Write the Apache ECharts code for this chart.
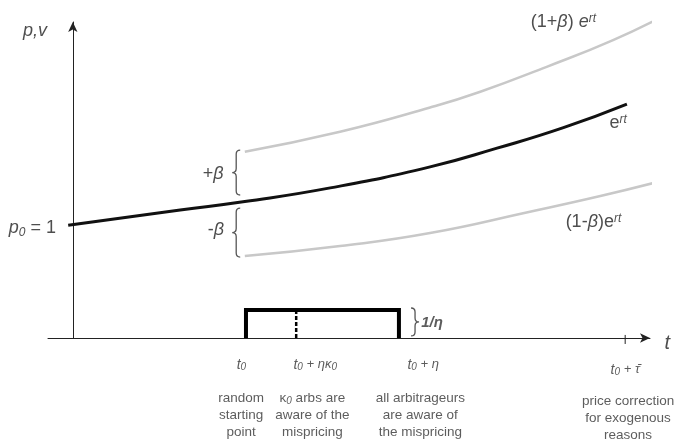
<!DOCTYPE html>
<html>
<head>
<meta charset="utf-8">
<script src="https://cdn.jsdelivr.net/npm/echarts@6/dist/echarts.min.js"></script>
<style>
html,body{margin:0;padding:0;background:#fff;}
#chart{width:679px;height:439px;}
</style>
</head>
<body>
<div id="chart"></div>
<script>
// ---- data (t, value) ----
const priceCurve = [[-0.08,1.0],[1.86,1.134],[2.98,1.209],[4.46,1.330],[6.19,1.516],[7.35,1.682],[8.50,1.864],[9.60,2.073]];
const upperBand = [[2.98,1.650],[4.63,1.827],[6.19,2.042],[7.06,2.182],[8.21,2.403],[9.36,2.640],[10.26,2.861]];
const lowerBand = [[2.98,0.726],[4.63,0.815],[6.19,0.930],[7.92,1.119],[9.14,1.258],[10.14,1.384]];
const t0 = 3.0, tKappa = 3.87, tEta = 5.65, tTau = 9.57, height = 0.248;
const arbRect = [[t0,0],[t0,height],[tEta,height],[tEta,0]];
const kappaLine = [[tKappa,0],[tKappa,height]];
const tauTick = [[tTau,-0.053],[tTau,0.027]];
// braces: [t of the open ends, v top, v bottom, direction (-1 = "{", 1 = "}")]
const braces = [[2.90,1.665,1.267,-1],[2.90,1.151,0.717,-1],[5.86,0.266,0.018,1]];
// annotation texts and their anchor points (t, v)
const annoTexts = [
  '{it|p,v}',
  '{itb|p}{sub|0}{b| = 1}',
  '{b|+}{itb|β}',
  '{b|-}{itb|β}',
  '{b|(1+}{itb|β}{b|) }{itb|e}{sup|rt}',
  '{b|e}{sup|rt}',
  '{b|(1-}{itb|β}{b|)e}{sup|rt}',
  '{ib|1/η}',
  '{big|t}',
  '{t|t}{sub2|0}',
  '{t|t}{sub2|0}{n| + ηκ}{sub2|0}',
  '{t|t}{sub2|0}{n| + η}',
  '{t|t}{sub2|0}{n| + τ\u0304}',
  'random\nstarting\npoint',
  '{d|κ}{ds|0}{d| arbs are}\n{d|aware of the}\n{d|mispricing}',
  'all arbitrageurs\nare aware of\nthe mispricing',
  'price correction\nfor exogenous\nreasons'
];
const annoPos = [
  [-0.655,2.72],[-0.70,0.966],[2.43,1.444],[2.48,0.948],[8.50,2.79],[9.45,1.90],[9.02,1.022],
  [6.225,0.133],[10.30,-0.044],[2.92,-0.239],[4.20,-0.239],[6.07,-0.239],[9.57,-0.284],
  [2.915,-0.682],[4.15,-0.682],[6.02,-0.682],[9.62,-0.709]
];

const chart = echarts.init(document.getElementById('chart'), null, {renderer:'canvas'});
const FONT = '"Liberation Sans", Arial, sans-serif';
const rich = {
  it:{fontFamily:FONT,fontStyle:'italic',fontSize:18,color:'#222',lineHeight:20},
  itb:{fontFamily:FONT,fontStyle:'italic',fontSize:18,color:'#222',lineHeight:20,padding:[0,0,4,0],verticalAlign:'top'},
  b:{fontFamily:FONT,fontSize:18,color:'#222',lineHeight:20,padding:[0,0,4,0],verticalAlign:'top'},
  sub:{fontFamily:FONT,fontStyle:'italic',fontSize:12,color:'#222',lineHeight:12,verticalAlign:'bottom'},
  sup:{fontFamily:FONT,fontStyle:'italic',fontSize:12,color:'#222',lineHeight:12,verticalAlign:'top'},
  ib:{fontFamily:FONT,fontStyle:'italic',fontWeight:'bold',fontSize:15,color:'#333'},
  big:{fontFamily:FONT,fontStyle:'italic',fontSize:20,color:'#222'},
  t:{fontFamily:FONT,fontStyle:'italic',fontSize:14,color:'#333',lineHeight:14,padding:[0,0,6,0],verticalAlign:'top'},
  n:{fontFamily:FONT,fontStyle:'italic',fontSize:13,color:'#333',lineHeight:14,padding:[0,0,6,0],verticalAlign:'top'},
  sub2:{fontFamily:FONT,fontStyle:'italic',fontSize:10,color:'#333',lineHeight:10,verticalAlign:'bottom'},
  d:{fontFamily:FONT,fontSize:13.5,color:'#333',lineHeight:17},
  ds:{fontFamily:FONT,fontStyle:'italic',fontSize:10,color:'#333',lineHeight:12,verticalAlign:'bottom'}
};

const annoData = annoTexts.map((txt,i)=>({
  value: annoPos[i],
  label:{show:true,position:'inside',formatter:txt,rich:rich,
         fontFamily:FONT,fontSize:13.5,color:'#333',lineHeight:17,align:'center',verticalAlign:'middle'}
}));

function braceItem(params, api){
  const pTop = api.coord([api.value(0), api.value(1)]);
  const pBot = api.coord([api.value(0), api.value(2)]);
  const dir = api.value(3);
  const x0 = pTop[0], y1 = pTop[1], y2 = pBot[1], ym = (y1+y2)/2;
  const xb = x0 + dir*4, xt = x0 + dir*8, r = 4;
  const d = 'M'+x0+' '+y1+' Q'+xb+' '+y1+' '+xb+' '+(y1+r)+
            ' L'+xb+' '+(ym-r)+' Q'+xb+' '+ym+' '+xt+' '+ym+
            ' Q'+xb+' '+ym+' '+xb+' '+(ym+r)+' L'+xb+' '+(y2-r)+
            ' Q'+xb+' '+y2+' '+x0+' '+y2;
  return {type:'path',shape:{pathData:d},style:{fill:'none',stroke:'#555',lineWidth:1.3}};
}

chart.setOption({
  animation:false,
  backgroundColor:'#fff',
  grid:{left:48,right:29,top:22,bottom:101,containLabel:false},
  xAxis:{type:'value',min:-0.43,max:10,splitLine:{show:false},axisTick:{show:false},axisLabel:{show:false},
         axisLine:{show:true,onZero:true,symbol:['none','arrow'],symbolSize:[7,10],lineStyle:{color:'#222',width:1}}},
  yAxis:{type:'value',min:0,max:2.8,splitLine:{show:false},axisTick:{show:false},axisLabel:{show:false},
         axisLine:{show:true,onZero:true,symbol:['none','arrow'],symbolSize:[7,10],lineStyle:{color:'#222',width:1}}},
  series:[
    {type:'line',name:'(1+β)e^rt',data:upperBand,smooth:true,showSymbol:false,clip:false,lineStyle:{color:'#c8c8c8',width:2.5}},
    {type:'line',name:'(1-β)e^rt',data:lowerBand,smooth:true,showSymbol:false,clip:false,lineStyle:{color:'#c8c8c8',width:2.5}},
    {type:'line',name:'e^rt',data:priceCurve,smooth:true,showSymbol:false,clip:false,lineStyle:{color:'#111',width:3}},
    {type:'line',name:'arbitrageurs',data:arbRect,showSymbol:false,clip:false,lineStyle:{color:'#000',width:4,join:'miter',cap:'butt'}},
    {type:'line',name:'kappa',data:kappaLine,showSymbol:false,clip:false,lineStyle:{color:'#000',width:2.5,type:[4,2]}},
    {type:'line',name:'tau',data:tauTick,showSymbol:false,clip:false,lineStyle:{color:'#222',width:1}},
    {type:'custom',name:'braces',data:braces,renderItem:braceItem,clip:false},
    {type:'scatter',name:'labels',data:annoData,symbolSize:0,clip:false,silent:true}
  ]
});
</script>
</body>
</html>
